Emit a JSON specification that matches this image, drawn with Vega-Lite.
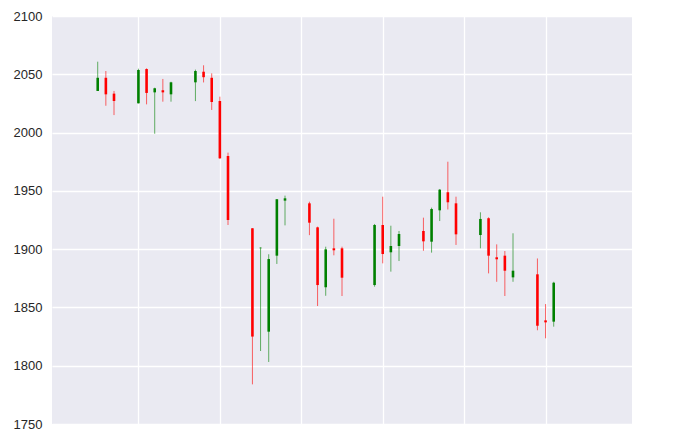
{
  "$schema": "https://vega.github.io/schema/vega-lite/v6.json",
  "autosize": {"type": "none"},
  "padding": {"left": 52, "top": 16, "right": 43, "bottom": 6},
  "width": 580,
  "height": 408,
  "background": "white",
  "config": {
    "view": {"fill": "#EAEAF2", "stroke": null},
    "font": "Liberation Sans",
    "axis": {"gridColor": "white", "gridWidth": 1.3, "gridOpacity": 1, "domain": false, "ticks": false}
  },
  "data": {"values": [
    {"day": 5, "open": 2035.7, "high": 2060.8, "low": 2035.7, "close": 2047},
    {"day": 6, "open": 2047, "high": 2052.8, "low": 2023, "close": 2032.8},
    {"day": 7, "open": 2033.4, "high": 2035.7, "low": 2015, "close": 2027.1},
    {"day": 10, "open": 2025.1, "high": 2054.8, "low": 2025, "close": 2053.7},
    {"day": 11, "open": 2054.5, "high": 2055.1, "low": 2024.2, "close": 2034},
    {"day": 12, "open": 2034.5, "high": 2038.5, "low": 1999, "close": 2038},
    {"day": 13, "open": 2036.3, "high": 2046, "low": 2026.5, "close": 2034.5},
    {"day": 14, "open": 2032.8, "high": 2043.6, "low": 2026.5, "close": 2043.1},
    {"day": 17, "open": 2043.1, "high": 2054, "low": 2027, "close": 2052.8},
    {"day": 18, "open": 2052.2, "high": 2057.7, "low": 2043, "close": 2047.5},
    {"day": 19, "open": 2047, "high": 2050.8, "low": 2019.4, "close": 2026.2},
    {"day": 20, "open": 2027.1, "high": 2030.8, "low": 1977.5, "close": 1977.9},
    {"day": 21, "open": 1979.9, "high": 1982.8, "low": 1920.7, "close": 1925},
    {"day": 24, "open": 1917.9, "high": 1918, "low": 1784, "close": 1825},
    {"day": 25, "open": 1900.8, "high": 1901.6, "low": 1812.6, "close": 1901.2},
    {"day": 26, "open": 1829.2, "high": 1895.6, "low": 1803.2, "close": 1891.5},
    {"day": 27, "open": 1894.4, "high": 1943, "low": 1887.3, "close": 1942.8},
    {"day": 28, "open": 1941.6, "high": 1945.9, "low": 1920.4, "close": 1943.6},
    {"day": 31, "open": 1939.3, "high": 1940.7, "low": 1912, "close": 1922.7},
    {"day": 32, "open": 1918.7, "high": 1919.3, "low": 1851.2, "close": 1869.2},
    {"day": 33, "open": 1867.3, "high": 1902.1, "low": 1860, "close": 1899.8},
    {"day": 34, "open": 1900.7, "high": 1926.1, "low": 1894.7, "close": 1899},
    {"day": 35, "open": 1900.7, "high": 1902.1, "low": 1859.8, "close": 1875.5},
    {"day": 39, "open": 1869.2, "high": 1921.6, "low": 1867.8, "close": 1920.7},
    {"day": 40, "open": 1920.7, "high": 1945, "low": 1887.8, "close": 1895.8},
    {"day": 41, "open": 1897.3, "high": 1920.1, "low": 1880.7, "close": 1902.7},
    {"day": 42, "open": 1902.7, "high": 1915.6, "low": 1889.8, "close": 1913},
    {"day": 45, "open": 1915.6, "high": 1927, "low": 1898.6, "close": 1906.7},
    {"day": 46, "open": 1906.4, "high": 1935.6, "low": 1897, "close": 1934.4},
    {"day": 47, "open": 1933.3, "high": 1951.6, "low": 1924.1, "close": 1951},
    {"day": 48, "open": 1948.8, "high": 1975, "low": 1934, "close": 1940.2},
    {"day": 49, "open": 1939.3, "high": 1945, "low": 1903.6, "close": 1912.7},
    {"day": 52, "open": 1912.1, "high": 1931.6, "low": 1900.7, "close": 1925.9},
    {"day": 53, "open": 1926.5, "high": 1927.3, "low": 1879.2, "close": 1894.4},
    {"day": 54, "open": 1893, "high": 1904.1, "low": 1872, "close": 1891.3},
    {"day": 55, "open": 1894.4, "high": 1898.4, "low": 1859.8, "close": 1881.5},
    {"day": 56, "open": 1875.8, "high": 1913.6, "low": 1872, "close": 1881.5},
    {"day": 59, "open": 1878.4, "high": 1892, "low": 1830.4, "close": 1834.3},
    {"day": 60, "open": 1838.9, "high": 1852.9, "low": 1823.5, "close": 1837.2},
    {"day": 61, "open": 1837.8, "high": 1872, "low": 1833.5, "close": 1871.2}
  ]},
  "encoding": {
    "x": {
      "field": "day", "type": "quantitative",
      "scale": {"domain": [0, 70], "nice": false, "zero": false},
      "axis": {"title": null, "labels": false, "values": [10, 20, 30, 40, 50, 60]}
    },
    "color": {
      "condition": {"test": "datum.close >= datum.open", "value": "#008000"},
      "value": "#ff0000"
    }
  },
  "layer": [
    {
      "mark": {"type": "rule", "strokeWidth": 1, "opacity": 0.6},
      "encoding": {
        "y": {
          "field": "low", "type": "quantitative",
          "scale": {"domain": [1750, 2100], "nice": false, "zero": false},
          "axis": {
            "title": null,
            "values": [1750, 1800, 1850, 1900, 1950, 2000, 2050, 2100],
            "format": "d",
            "labelFontSize": 13,
            "labelColor": "#262626",
            "labelPadding": 10
          }
        },
        "y2": {"field": "high"}
      }
    },
    {
      "mark": {"type": "bar", "size": 2.6},
      "encoding": {
        "y": {"field": "open", "type": "quantitative"},
        "y2": {"field": "close"}
      }
    }
  ]
}
